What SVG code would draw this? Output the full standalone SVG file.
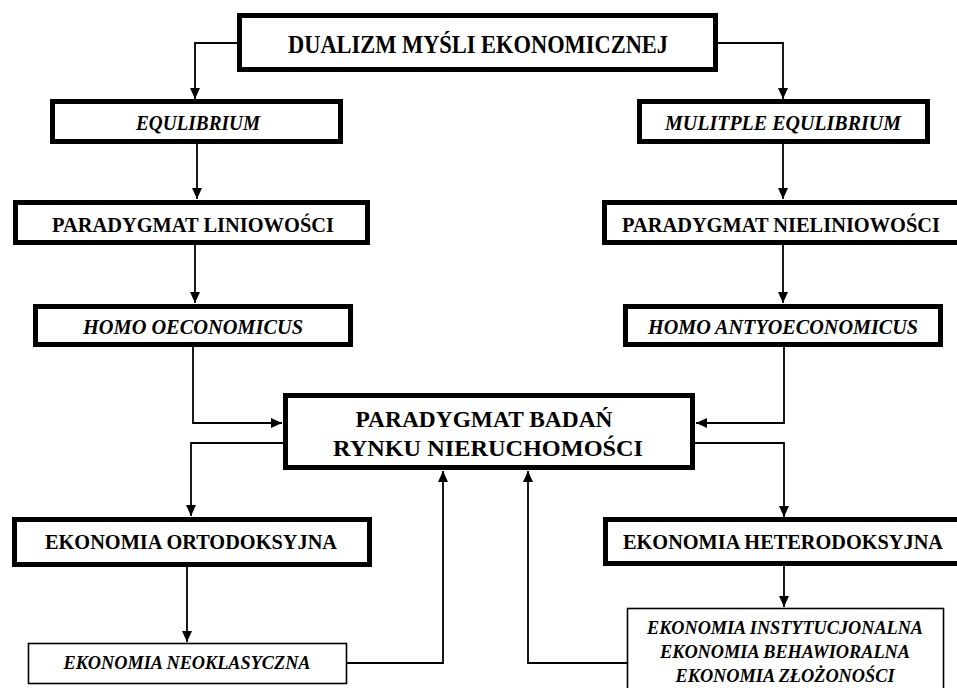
<svg xmlns="http://www.w3.org/2000/svg" width="957" height="688" viewBox="0 0 957 688">
<style>
.thick{fill:#fff;stroke:#000;stroke-width:5}
.thin{fill:#fff;stroke:#000;stroke-width:1.6}
.t{font-family:'Liberation Serif','Times New Roman','DejaVu Serif',serif;font-weight:bold;fill:#000;text-anchor:middle}
.it{font-style:italic}
.c{fill:none;stroke:#000;stroke-width:1.8}
</style>
<defs>
<marker id="ah" markerUnits="userSpaceOnUse" markerWidth="12" markerHeight="10" refX="11" refY="5" orient="auto">
<path d="M0,0 L11,5 L0,10 Z" fill="#000"/>
</marker>
</defs>
<rect width="957" height="688" fill="#fff"/>
<g id="connectors">
<path class="c" d="M237,43 H195 V99" marker-end="url(#ah)"/>
<path class="c" d="M718,43 H783 V99" marker-end="url(#ah)"/>
<path class="c" d="M197,144 V199" marker-end="url(#ah)"/>
<path class="c" d="M783,144 V199" marker-end="url(#ah)"/>
<path class="c" d="M195,245 V303" marker-end="url(#ah)"/>
<path class="c" d="M783,245 V303" marker-end="url(#ah)"/>
<path class="c" d="M193,347 V423 H282" marker-end="url(#ah)"/>
<path class="c" d="M784,347 V423 H696" marker-end="url(#ah)"/>
<path class="c" d="M283,443 H191 V516" marker-end="url(#ah)"/>
<path class="c" d="M695,443 H784 V517" marker-end="url(#ah)"/>
<path class="c" d="M187,567 V642" marker-end="url(#ah)"/>
<path class="c" d="M784,565 V607" marker-end="url(#ah)"/>
<path class="c" d="M347,663 H443 V471" marker-end="url(#ah)"/>
<path class="c" d="M627,663 H528 V471" marker-end="url(#ah)"/>
</g>
<g id="n-dualizm">
<rect class="thick" x="239.5" y="15.5" width="476" height="54"/>
<text class="t" x="478" y="53" font-size="25" textLength="380" lengthAdjust="spacingAndGlyphs">DUALIZM MYŚLI EKONOMICZNEJ</text>
</g>
<g id="n-equlibrium">
<rect class="thick" x="52.5" y="101.5" width="288" height="40"/>
<text class="t it" x="198" y="130" font-size="20" textLength="124" lengthAdjust="spacingAndGlyphs">EQULIBRIUM</text>
</g>
<g id="n-multiple">
<rect class="thick" x="639.5" y="101.5" width="288" height="40"/>
<text class="t it" x="783" y="130" font-size="20" textLength="236" lengthAdjust="spacingAndGlyphs">MULITPLE EQULIBRIUM</text>
</g>
<g id="n-liniowosci">
<rect class="thick" x="15.5" y="202.5" width="352" height="40"/>
<text class="t" x="193" y="232" font-size="21" textLength="282" lengthAdjust="spacingAndGlyphs">PARADYGMAT LINIOWOŚCI</text>
</g>
<g id="n-nieliniowosci">
<rect class="thick" x="604.5" y="202.5" width="360" height="40"/>
<text class="t" x="781" y="232" font-size="21" textLength="318" lengthAdjust="spacingAndGlyphs">PARADYGMAT NIELINIOWOŚCI</text>
</g>
<g id="n-homo-oec">
<rect class="thick" x="35.5" y="306.5" width="315" height="38"/>
<text class="t it" x="193" y="334" font-size="21" textLength="220" lengthAdjust="spacingAndGlyphs">HOMO OECONOMICUS</text>
</g>
<g id="n-homo-anty">
<rect class="thick" x="625.5" y="306.5" width="315" height="38"/>
<text class="t it" x="783" y="334" font-size="21" textLength="270" lengthAdjust="spacingAndGlyphs">HOMO ANTYOECONOMICUS</text>
</g>
<g id="n-center">
<rect class="thick" x="285.5" y="395.5" width="407" height="72"/>
<text class="t" x="484" y="427" font-size="24" textLength="257" lengthAdjust="spacingAndGlyphs">PARADYGMAT BADAŃ</text>
<text class="t" x="488" y="456" font-size="24" textLength="310" lengthAdjust="spacingAndGlyphs">RYNKU NIERUCHOMOŚCI</text>
</g>
<g id="n-ortodoksyjna">
<rect class="thick" x="14.5" y="519.5" width="355" height="45"/>
<text class="t" x="191" y="549" font-size="21" textLength="292" lengthAdjust="spacingAndGlyphs">EKONOMIA ORTODOKSYJNA</text>
</g>
<g id="n-heterodoksyjna">
<rect class="thick" x="605.5" y="519.5" width="360" height="44"/>
<text class="t" x="783" y="549" font-size="21" textLength="320" lengthAdjust="spacingAndGlyphs">EKONOMIA HETERODOKSYJNA</text>
</g>
<g id="n-neoklasyczna">
<rect class="thin" x="28.5" y="643.5" width="318" height="40"/>
<text class="t it" x="187" y="669" font-size="19" textLength="247" lengthAdjust="spacingAndGlyphs">EKONOMIA NEOKLASYCZNA</text>
</g>
<g id="n-hetero-list">
<rect class="thin" x="627.5" y="608.5" width="316" height="95"/>
<text class="t it" x="785" y="634" font-size="19" textLength="276" lengthAdjust="spacingAndGlyphs">EKONOMIA INSTYTUCJONALNA</text>
<text class="t it" x="785" y="658" font-size="19" textLength="250" lengthAdjust="spacingAndGlyphs">EKONOMIA BEHAWIORALNA</text>
<text class="t it" x="785" y="682" font-size="19" textLength="219" lengthAdjust="spacingAndGlyphs">EKONOMIA ZŁOŻONOŚCI</text>
</g>
</svg>
